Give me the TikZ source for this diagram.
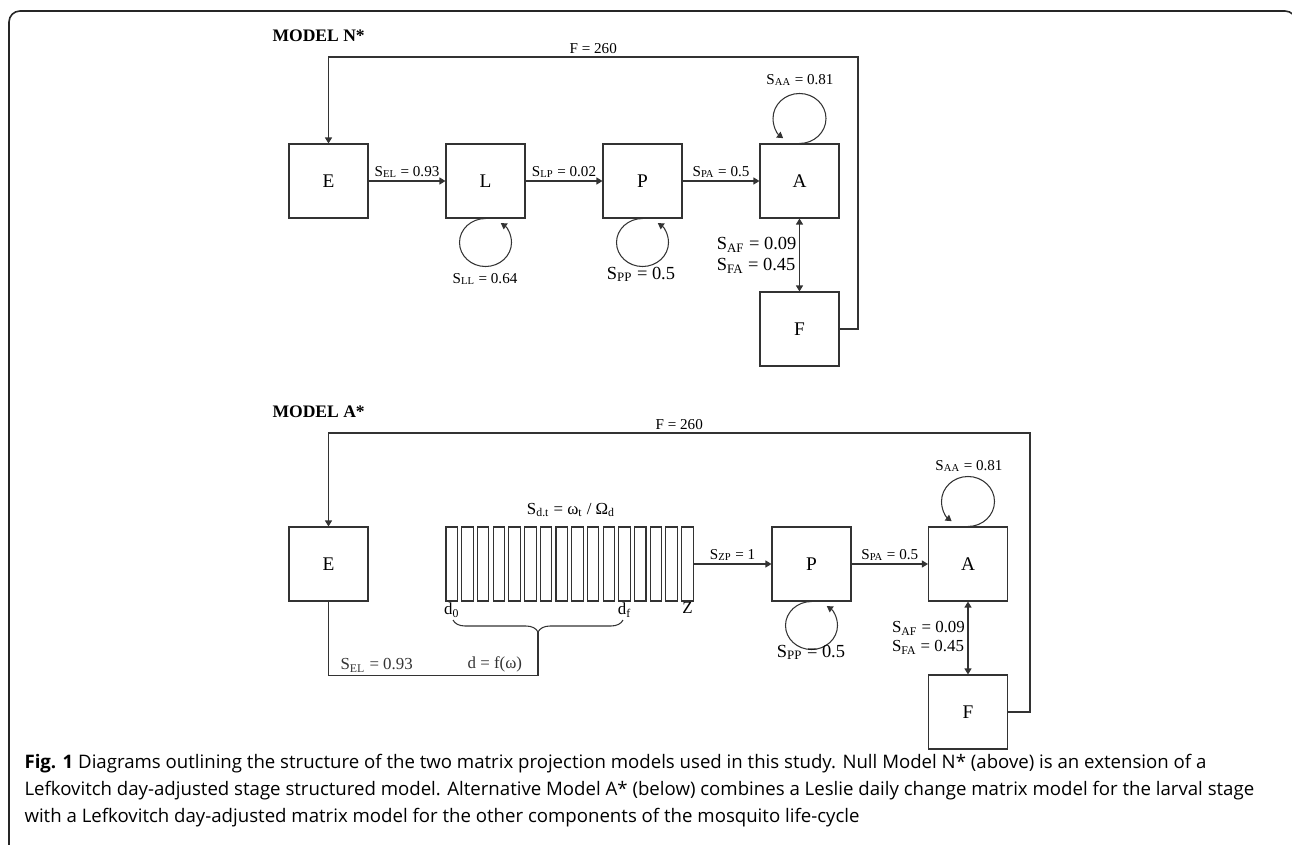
\documentclass[tikz,border=0pt]{standalone}
\usepackage{fontspec}
\setmainfont{Liberation Serif}
\newfontfamily\capfont{Open Sans}
\usetikzlibrary{arrows.meta,decorations.pathreplacing}

\begin{document}
\begin{tikzpicture}[x=0.02cm, y=-0.02cm, line width=0.6pt,
    stage/.style={draw=black!80, minimum width=1.58cm, minimum height=1.48cm, inner sep=0pt, font=\fontsize{11}{13}\selectfont},
    strip/.style={draw=black!80, minimum width=0.23cm, minimum height=1.48cm, inner sep=0pt},
    title/.style={font=\bfseries\fontsize{10}{12}\selectfont, inner sep=0pt},
    lbl/.style={font=\fontsize{8.6}{10}\selectfont, inner sep=1.5pt},
    midlbl/.style={font=\fontsize{9.6}{11}\selectfont, inner sep=1.5pt},
    biglbl/.style={font=\fontsize{10.5}{12}\selectfont, inner sep=1.5pt},
    arr/.style={draw=black!80, -{Triangle[length=0.12cm,width=0.14cm]}},
    arrs/.style={draw=black!80, {Triangle[length=0.12cm,width=0.14cm]}-{Triangle[length=0.12cm,width=0.14cm]}}]

    \useasboundingbox (0,0) rectangle (1292,845);
    % frame
    \begin{scope}
        \clip (0,0) rectangle (1292,845);
        \draw[line width=0.9pt, black!85, rounded corners=0.22cm] (9,11) rectangle (1296,870);
    \end{scope}

    % MODEL N*
    \node[title, anchor=west] (titleN) at (272,36) {MODEL N*};
    \node[stage] (E) at (328.5,181) {E};
    \node[stage] (L) at (485.5,181) {L};
    \node[stage] (P) at (642.5,181) {P};
    \node[stage] (A) at (799.5,181) {A};
    \node[stage] (F) at (799.5,329) {F};
    \coordinate (backN) at (858,57);

    \draw[arr] (E) -- node[lbl, above] {S\textsubscript{EL} = 0.93} (L);
    \draw[arr] (L) -- node[lbl, above] {S\textsubscript{LP} = 0.02} (P);
    \draw[arr] (P) -- node[lbl, above] {S\textsubscript{PA} = 0.5} (A);
    \draw[arrs] (A) -- node[biglbl, left, align=left] {S\textsubscript{AF} = 0.09\\S\textsubscript{FA} = 0.45} (F);
    \draw[arr] (F.east) -| (backN) -| node[lbl, pos=0.25, above] {F = 260} (E.north);

    % loops
    \draw[arr] (L.south) arc[start angle=90, end angle=414, x radius=0.52cm, y radius=0.48cm];
    \draw[arr] (P.south) arc[start angle=90, end angle=414, x radius=0.52cm, y radius=0.48cm];
    \draw[arr] (A.north) arc[start angle=-90, end angle=232, x radius=0.53cm, y radius=0.5cm];
    \node[lbl, anchor=base] (sLL) at (485,283) {S\textsubscript{LL} = 0.64};
    \node[biglbl, anchor=base] (sPP) at (641,279) {S\textsubscript{PP} = 0.5};
    \node[lbl, anchor=base] (sAA) at (800,84) {S\textsubscript{AA} = 0.81};

    % MODEL A*
    \node[title, anchor=west] (titleA) at (272,412) {MODEL A*};
    \node[stage] (E2) at (328.5,564) {E};
    \foreach \i in {0,...,15}
        \node[strip] (s\i) at ({451.75+15.71*\i},564) {};
    \node[stage] (P2) at (811.5,564) {P};
    \node[stage] (A2) at (968,564) {A};
    \node[stage] (F2) at (968,712) {F};
    \coordinate (backA) at (1030,433);
    \coordinate (braceTip) at (538,632);

    \node[midlbl] (sdt) at (571,510) {S\textsubscript{d.t} = ω\textsubscript{t} / Ω\textsubscript{d}};
    \node[midlbl, anchor=north, inner sep=0.5pt] (d0) at (s0.south) {d\textsubscript{0}};
    \node[midlbl, anchor=north, inner sep=0.5pt] (df) at (s11.south) {d\textsubscript{f}};
    \node[midlbl, anchor=north, inner sep=0.5pt] (Z) at (s15.south) {Z};
    \draw[black!80, decorate, decoration={brace, mirror, amplitude=0.24cm}] (453,620) -- (623,620);

    \draw[black!80] (E2.south) -- ++(0,74) -| node[midlbl, pos=0.115, above] {S\textsubscript{EL} = 0.93}
        node[midlbl, pos=0.397, above] {d = f(ω)} (braceTip);
    \draw[arr] (s15) -- node[lbl, above] {S\textsubscript{ZP} = 1} (P2);
    \draw[arr] (P2) -- node[lbl, above] {S\textsubscript{PA} = 0.5} (A2);
    \draw[arrs] (A2) -- node[midlbl, left, align=left] {S\textsubscript{AF} = 0.09\\S\textsubscript{FA} = 0.45} (F2);
    \draw[arr] (F2.east) -| (backA) -| node[lbl, pos=0.25, above] {F = 260} (E2.north);

    \draw[arr] (P2.south) arc[start angle=90, end angle=414, x radius=0.52cm, y radius=0.48cm];
    \draw[arr] (A2.north) arc[start angle=-90, end angle=232, x radius=0.53cm, y radius=0.5cm];
    \node[biglbl, anchor=base] (sPP2) at (811,657) {S\textsubscript{PP} = 0.5};
    \node[lbl, anchor=base] (sAA2) at (969,470) {S\textsubscript{AA} = 0.81};

    % caption
    \node[anchor=north west, align=left, inner sep=0pt, font=\capfont\fontsize{10.6}{15.3}\selectfont] (caption) at (24,754)
        {\textbf{Fig. 1} Diagrams outlining the structure of the two matrix projection models used in this study. Null Model N* (above) is an extension of a\\
         Lefkovitch day-adjusted stage structured model. Alternative Model A* (below) combines a Leslie daily change matrix model for the larval stage\\
         with a Lefkovitch day-adjusted matrix model for the other components of the mosquito life-cycle};
\end{tikzpicture}
\end{document}
